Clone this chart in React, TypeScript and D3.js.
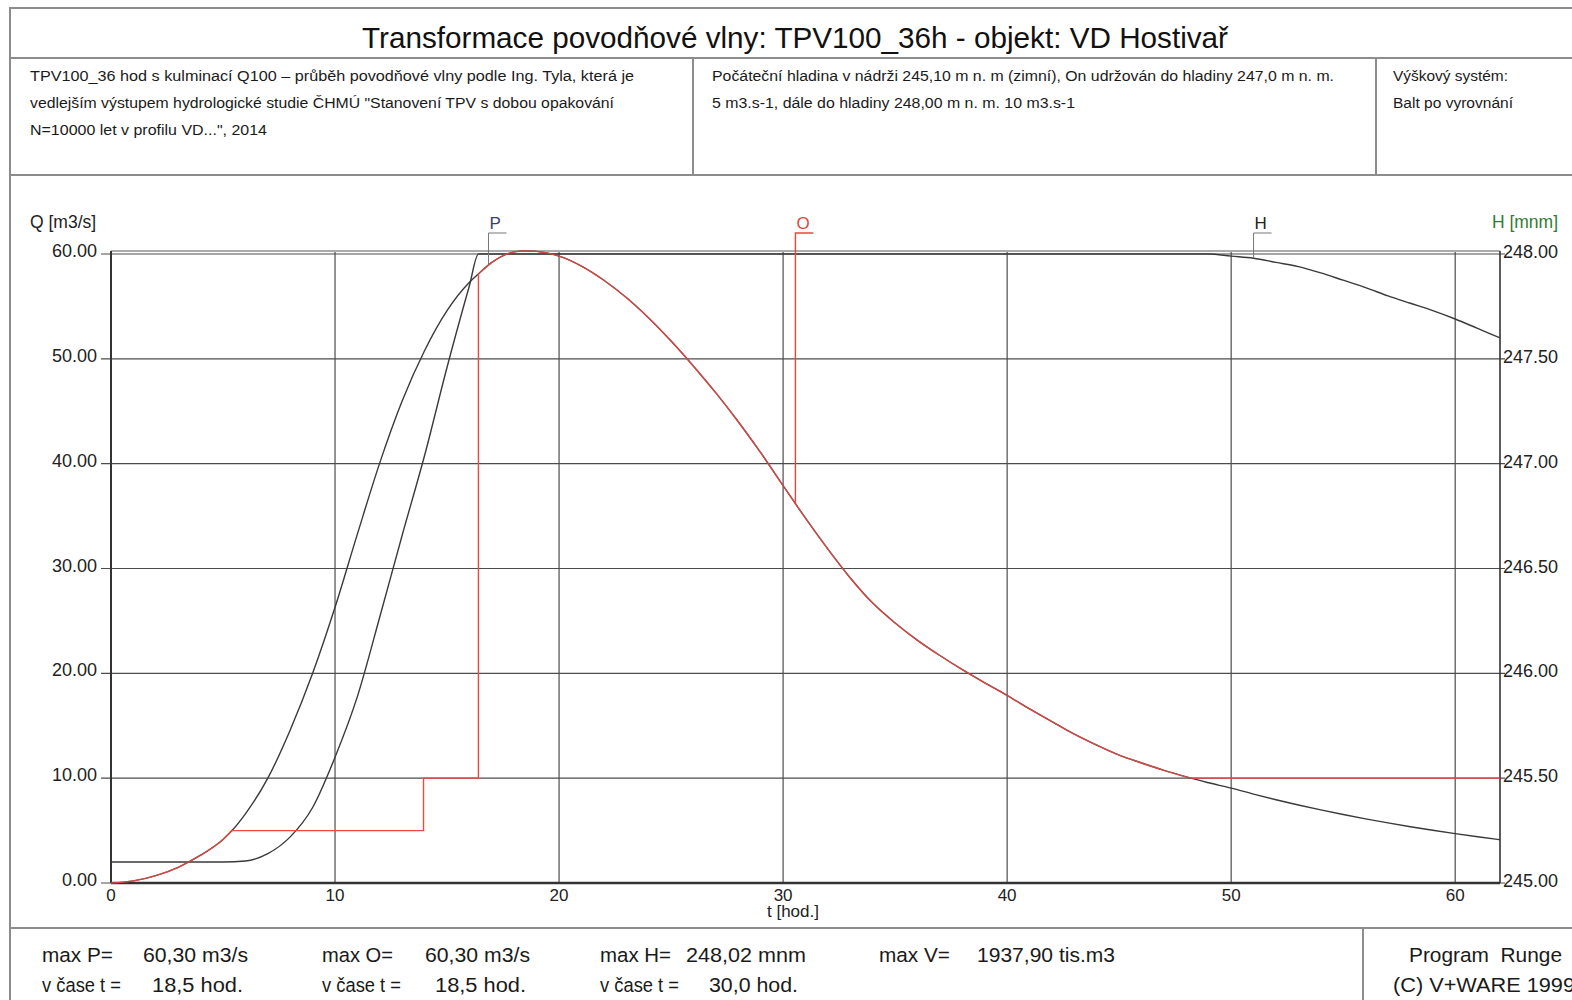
import React, { useEffect, useRef } from 'react';
import * as d3 from 'd3';

// inflow P [m3/s]
const inflowT = [0, 1, 2, 3, 4, 5, 5.4, 6, 7, 8, 9, 10, 11, 12, 13, 14, 15, 16, 16.4, 17, 18, 18.5, 19, 20, 21, 22, 23, 24, 25, 26, 27, 28, 29, 30, 31, 32, 33, 34, 35, 36, 37, 38, 39, 40, 41, 42, 43, 44, 45, 46, 47, 48, 48.2, 49, 50, 51, 52, 53, 54, 55, 56, 57, 58, 59, 60, 61, 62];
const inflowQ = [0, 0.2, 0.7, 1.5, 2.65, 4.15, 5.0, 6.6, 10.0, 14.6, 20.0, 26.3, 33.3, 40.1, 46.0, 50.8, 54.6, 57.3, 58.1, 59.2, 60.2, 60.3, 60.25, 59.8, 58.85, 57.5, 55.85, 53.9, 51.7, 49.3, 46.75, 44.0, 41.05, 37.9, 34.8, 31.85, 29.1, 26.7, 24.8, 23.15, 21.7, 20.35, 19.1, 17.9, 16.6, 15.4, 14.2, 13.15, 12.2, 11.45, 10.75, 10.12, 10.0, 9.56, 9.05, 8.48, 7.94, 7.44, 6.97, 6.53, 6.12, 5.73, 5.37, 5.03, 4.71, 4.41, 4.13];

// reservoir level H [m n. m.]
const levelT = [0, 2, 4, 5, 6, 7, 8, 9, 10, 11, 12, 13, 14, 15, 16, 16.4, 18, 20, 24, 28, 30, 34, 40, 46, 49, 50, 51, 52, 53, 54, 55, 56, 57, 58, 59, 60, 61, 62];
const levelH = [245.1, 245.1, 245.1, 245.1, 245.105, 245.14, 245.22, 245.36, 245.6, 245.89, 246.27, 246.66, 247.04, 247.46, 247.85, 248.0, 248.0, 248.0, 248.0, 248.0, 248.0, 248.0, 248.0, 248.0, 248.0, 247.99, 247.98, 247.96, 247.94, 247.91, 247.875, 247.84, 247.8, 247.765, 247.73, 247.69, 247.645, 247.6];

// outflow O: follows P in these ranges, otherwise held at fixed discharge
const outflowFollow = [[0, 5.4], [16.4, 48.2]];
const outflowStepT = [5.4, 13.95, 13.95, 16.4, 16.4];
const outflowStepQ = [5, 5, 10, 10, 58.1];
const outflowTailT = [48.2, 62];
const outflowTailQ = [10, 10];

const T_TICKS = [0, 10, 20, 30, 40, 50, 60];
const Q_TICKS = [0, 10, 20, 30, 40, 50, 60];
const H_TICKS = [245, 245.5, 246, 246.5, 247, 247.5, 248];

const markerNames = ['P', 'O', 'H'];
const markerT = [16.85, 30.55, 51.0];
const markerV = [59.0, 36.1, 247.98];
const markerColors = ['#3d3d78', '#e8453c', '#222222'];
const markerLeader = ['#777777', '#e8453c', '#777777'];

const titleText = 'Transformace povodňové vlny: TPV100_36h - objekt: VD Hostivař';
const noteLeft = [
  'TPV100_36 hod s kulminací Q100 – průběh povodňové vlny podle Ing. Tyla, která je',
  'vedlejším výstupem hydrologické studie ČHMÚ "Stanovení TPV s dobou opakování',
  'N=10000 let v profilu VD...", 2014',
];
const noteMid = [
  'Počáteční hladina v nádrži 245,10 m n. m (zimní), On udržován do hladiny 247,0 m n. m.',
  '5 m3.s-1, dále do hladiny 248,00 m n. m. 10 m3.s-1',
];
const noteRight = ['Výškový systém:', 'Balt po vyrovnání'];

const summaryLabels = ['max P=', 'max O=', 'max H=', 'max V='];
const summaryValues = ['60,30 m3/s', '60,30 m3/s', '248,02 mnm', '1937,90 tis.m3'];
const summaryTimes = ['18,5 hod.', '18,5 hod.', '30,0 hod.'];

const FONT = '"Liberation Sans", Arial, sans-serif';

const App: React.FC = () => {
  const ref = useRef<SVGSVGElement>(null);

  useEffect(() => {
    if (!ref.current) return;
    const svg = d3.select(ref.current);
    svg.selectAll('*').remove();

    const W = 1572, H = 1000;
    const left = 111, right = 1500, top = 254, bottom = 883;

    const x = d3.scaleLinear().domain([0, 62]).range([left, right]);
    const yQ = d3.scaleLinear().domain([0, 60]).range([bottom, top]);
    const yH = d3.scaleLinear().domain([245, 248]).range([bottom, top]);

    svg.append('rect').attr('width', W).attr('height', H).attr('fill', '#fff');

    // frame
    const frame = svg.append('g').attr('stroke', '#8c8c8c').attr('stroke-width', 2).attr('fill', 'none');
    frame.append('rect').attr('x', 10).attr('y', 8).attr('width', 1600).attr('height', 1010);
    frame.append('line').attr('x1', 10).attr('x2', 1600).attr('y1', 58).attr('y2', 58);
    frame.append('line').attr('x1', 10).attr('x2', 1600).attr('y1', 175).attr('y2', 175);
    frame.append('line').attr('x1', 693).attr('x2', 693).attr('y1', 58).attr('y2', 175);
    frame.append('line').attr('x1', 1376).attr('x2', 1376).attr('y1', 58).attr('y2', 175);
    frame.append('line').attr('x1', 10).attr('x2', 1600).attr('y1', 928).attr('y2', 928);
    frame.append('line').attr('x1', 1363).attr('x2', 1363).attr('y1', 928).attr('y2', 1010);

    svg.append('text')
      .attr('x', 362).attr('y', 48)
      .attr('textLength', 866).attr('lengthAdjust', 'spacingAndGlyphs')
      .style('font-family', FONT).style('font-size', '29px').style('fill', '#111')
      .text(titleText);

    const note = (lines: string[], x0: number, widths: number[]) => {
      lines.forEach((s, i) => {
        svg.append('text')
          .attr('x', x0).attr('y', 81 + i * 27)
          .attr('textLength', widths[i]).attr('lengthAdjust', 'spacingAndGlyphs')
          .style('font-family', FONT).style('font-size', '14px').style('fill', '#1a1a1a')
          .text(s);
      });
    };
    note(noteLeft, 30, [604, 584, 237]);
    note(noteMid, 712, [622, 363]);
    note(noteRight, 1393, [115, 120]);

    // grid
    const grid = svg.append('g').attr('stroke', '#4d4d4d').attr('stroke-width', 1.2);
    Q_TICKS.forEach(q => {
      grid.append('line').attr('x1', left - 10).attr('x2', right + 5)
        .attr('y1', yQ(q)).attr('y2', yQ(q));
    });
    T_TICKS.forEach(t => {
      grid.append('line').attr('x1', x(t)).attr('x2', x(t)).attr('y1', top - 2).attr('y2', bottom);
    });
    svg.append('line').attr('x1', left).attr('x2', right).attr('y1', top - 3).attr('y2', top - 3)
      .attr('stroke', '#5a5a5a').attr('stroke-width', 1.2);
    svg.append('line').attr('x1', left).attr('x2', left).attr('y1', top - 3).attr('y2', bottom)
      .attr('stroke', '#333').attr('stroke-width', 2);
    svg.append('line').attr('x1', right).attr('x2', right).attr('y1', top - 3).attr('y2', bottom)
      .attr('stroke', '#333').attr('stroke-width', 1.6);
    svg.append('line').attr('x1', left).attr('x2', right).attr('y1', bottom).attr('y2', bottom)
      .attr('stroke', '#333').attr('stroke-width', 2.4);

    // axis labels
    const lbl = (s: string, xx: number, yy: number, anchor: string, size = 18, color = '#222', len?: number) => {
      const el = svg.append('text').attr('x', xx).attr('y', yy).attr('text-anchor', anchor)
        .style('font-family', FONT).style('font-size', `${size}px`).style('fill', color)
        .style('white-space', 'pre').text(s);
      if (len) el.attr('textLength', len).attr('lengthAdjust', 'spacingAndGlyphs');
      return el;
    };

    Q_TICKS.forEach(q => lbl(d3.format('.2f')(q), 97, yQ(q) + 3, 'end'));
    H_TICKS.forEach(h => lbl(d3.format('.2f')(h), 1503, yH(h) + 4, 'start'));
    T_TICKS.forEach(t => lbl(String(t), x(t), 901, 'middle', 17));
    lbl('t [hod.]', 793, 917, 'middle', 17);
    lbl('Q [m3/s]', 30, 228, 'start', 17.5);
    lbl('H [mnm]', 1558, 228, 'end', 17.5, '#2f7d32');

    // curves
    const lineQ = d3.line<[number, number]>().x(d => x(d[0])).y(d => yQ(d[1])).curve(d3.curveMonotoneX);
    const lineH = d3.line<[number, number]>().x(d => x(d[0])).y(d => yH(d[1])).curve(d3.curveMonotoneX);
    const straight = d3.line<[number, number]>().x(d => x(d[0])).y(d => yQ(d[1]));

    const pPts: [number, number][] = inflowT.map((t, i) => [t, inflowQ[i]]);
    const hPts: [number, number][] = levelT.map((t, i) => [t, levelH[i]]);

    svg.append('path').attr('d', lineH(hPts)).attr('fill', 'none')
      .attr('stroke', '#3a3a3a').attr('stroke-width', 1.4);
    svg.append('path').attr('d', lineQ(pPts)).attr('fill', 'none')
      .attr('stroke', '#3a3a3a').attr('stroke-width', 1.4);

    const red = '#ee4a44';
    outflowFollow.forEach(([a, b]) => {
      svg.append('path').attr('d', lineQ(pPts.filter(p => p[0] >= a && p[0] <= b)))
        .attr('fill', 'none').attr('stroke', red).attr('stroke-width', 1.4).attr('opacity', 0.85);
    });
    svg.append('path').attr('d', straight(outflowStepT.map((t, i) => [t, outflowStepQ[i]] as [number, number])))
      .attr('fill', 'none').attr('stroke', red).attr('stroke-width', 1.4);
    svg.append('path').attr('d', straight(outflowTailT.map((t, i) => [t, outflowTailQ[i]] as [number, number])))
      .attr('fill', 'none').attr('stroke', red).attr('stroke-width', 1.4);

    // series markers
    markerNames.forEach((name, i) => {
      const mx = x(markerT[i]);
      const my = name === 'H' ? yH(markerV[i]) : yQ(markerV[i]);
      svg.append('path').attr('d', `M${mx},${my}V233H${mx + 18}`)
        .attr('fill', 'none').attr('stroke', markerLeader[i]).attr('stroke-width', name === 'O' ? 1.4 : 1);
      lbl(name, mx + 1, 229, 'start', 17, markerColors[i]);
    });

    // summary
    const colX = [42, 322, 600, 879];
    const valX = [143, 425, 686, 977];
    const valLen = [105, 105, 120, 138];
    const timeX = [152, 435, 709];
    const ink = '#1a1a1a';
    summaryLabels.forEach((s, i) => lbl(s, colX[i], 962, 'start', 20.5, ink, 71));
    summaryValues.forEach((s, i) => lbl(s, valX[i], 962, 'start', 20.5, ink, valLen[i]));
    summaryTimes.forEach((s, i) => {
      lbl('v čase t =', colX[i], 992, 'start', 20.5, ink, 79);
      lbl(s, timeX[i], 992, 'start', 20.5, ink, s.startsWith('30') ? 89 : 91);
    });
    lbl('Program  Runge', 1409, 962, 'start', 20.5, ink, 153);
    lbl('(C) V+WARE 1999', 1393, 992, 'start', 20.5, ink, 182);
  }, []);

  return (
    <svg ref={ref} width={1572} height={1000}
      style={{ position: 'absolute', left: 0, top: 0, background: '#fff' }} />
  );
};

export default App;
